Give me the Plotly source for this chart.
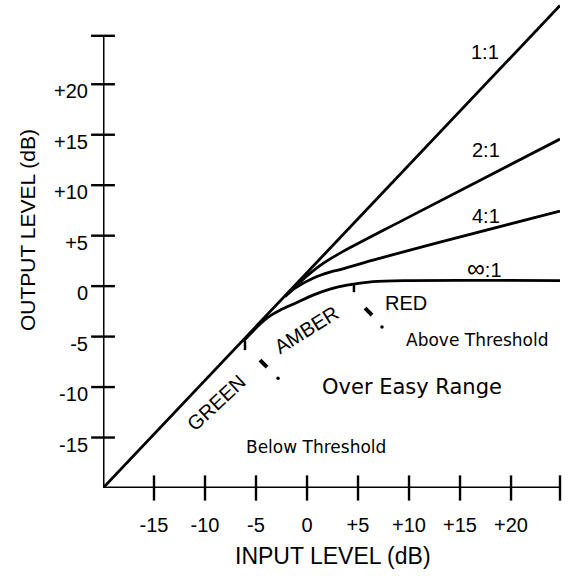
import plotly.graph_objects as go

# ---------------- data (dB) ----------------
# 1:1 reference line
in_1to1 = [-20.0, 24.8]
out_1to1 = [-20.0, 27.8]

# 2:1 curve
in_2to1 = [-1.86, -0.69, 1.27, 3.24, 9.41, 24.8]
out_2to1 = [-0.73, 0.40, 2.03, 3.27, 6.54, 14.57]

# 4:1 curve
in_4to1 = [-2.16, -1.18, 0.59, 2.25, 3.24, 6.47, 13.04, 24.8]
out_4to1 = [-1.05, -0.20, 0.79, 1.39, 1.64, 2.58, 4.36, 7.43]

# infinity:1 curve
in_inf = [-6.27, -5.10, -4.12, -3.43, -2.65, -0.98, 0.59, 2.25, 3.92, 6.47, 9.80, 24.8]
out_inf = [-5.50, -4.24, -3.32, -2.82, -2.38, -1.62, -0.89, -0.30, 0.10, 0.45, 0.55, 0.55]

# zone boundary marks (tick on curve, dash, dot)
bound_tick_x = [-6.08, -6.08, None, 4.6, 4.6]
bound_tick_y = [-5.45, -6.34, None, 0.2, -0.6]
bound_dash_x = [-4.61, -3.92, None, 5.69, 6.37]
bound_dash_y = [-7.33, -8.03, None, -2.18, -2.87]
bound_dot_x = [-2.84, 7.35]
bound_dot_y = [-9.12, -4.06]

# axis ticks
x_tickvals = [-15, -10, -5, 0, 5, 10, 15, 20]
x_ticktext = ["-15", "-10", "-5", "0", "+5", "+10", "+15", "+20"]
y_tickvals = [-15, -10, -5, 0, 5, 10, 15, 20]
y_ticktext = ["-15", "-10", "-5", "0", "+5", "+10", "+15", "+20"]
AXIS_MIN = -20.0
AXIS_MAX = 24.8

# ratio labels
ratio_text = ["1:1", "2:1", "4:1", "<span style='font-size:25px'>\u221e</span>:1"]
ratio_x = [17.45, 17.55, 17.55, 17.35]
ratio_y = [23.2, 13.5, 6.94, 1.75]

# zone labels
zone_text = ["GREEN", "AMBER", "RED"]
zone_x = [-8.92, -0.1, 9.7]
zone_y = [-11.6, -4.36, -1.68]
zone_angle = [-43, -32, 0]

# region labels
region_text = ["Above Threshold", "Over Easy Range", "Below Threshold"]
region_x = [16.76, 10.3, 0.88]
region_y = [-5.35, -10.0, -15.96]
region_size = [17, 21, 17]

# ---------------- figure ----------------
HELV = "Liberation Sans, Arial, Helvetica, sans-serif"
WIDE = "DejaVu Sans, Verdana, sans-serif"
BLACK = "black"

fig = go.Figure()

curve_line = dict(color=BLACK, width=2.8, shape="spline", smoothing=0.8)
for xs, ys in [(in_1to1, out_1to1), (in_2to1, out_2to1), (in_4to1, out_4to1), (in_inf, out_inf)]:
    fig.add_trace(go.Scatter(x=xs, y=ys, mode="lines", line=curve_line,
                             hoverinfo="skip", showlegend=False))

fig.add_trace(go.Scatter(x=bound_tick_x, y=bound_tick_y, mode="lines",
                         line=dict(color=BLACK, width=2.5), showlegend=False, hoverinfo="skip"))
fig.add_trace(go.Scatter(x=bound_dash_x, y=bound_dash_y, mode="lines",
                         line=dict(color=BLACK, width=4), showlegend=False, hoverinfo="skip"))
fig.add_trace(go.Scatter(x=bound_dot_x, y=bound_dot_y, mode="markers",
                         marker=dict(color=BLACK, size=3.5), showlegend=False, hoverinfo="skip"))

# axis lines
fig.add_shape(type="line", xref="x", yref="y", x0=AXIS_MIN, x1=AXIS_MIN, y0=AXIS_MIN, y1=AXIS_MAX,
              line=dict(color=BLACK, width=3))
fig.add_shape(type="line", xref="x", yref="y", x0=AXIS_MIN, x1=AXIS_MAX, y0=AXIS_MIN, y1=AXIS_MIN,
              line=dict(color=BLACK, width=3))

# crossing tick marks (including end caps)
fig.add_trace(go.Scatter(x=[AXIS_MIN] * (len(y_tickvals) + 1), y=y_tickvals + [AXIS_MAX],
                         mode="markers", cliponaxis=False,
                         marker=dict(symbol="line-ew", size=17, line=dict(color=BLACK, width=2.4)),
                         showlegend=False, hoverinfo="skip"))
fig.add_trace(go.Scatter(x=x_tickvals + [AXIS_MAX], y=[AXIS_MIN] * (len(x_tickvals) + 1),
                         mode="markers", cliponaxis=False,
                         marker=dict(symbol="line-ns", size=18, line=dict(color=BLACK, width=2.4)),
                         showlegend=False, hoverinfo="skip"))

annotations = []
for t, x, y in zip(ratio_text, ratio_x, ratio_y):
    annotations.append(dict(text=t, x=x, y=y, xref="x", yref="y", showarrow=False,
                            font=dict(family=HELV, size=20, color=BLACK)))
for t, x, y, a in zip(zone_text, zone_x, zone_y, zone_angle):
    annotations.append(dict(text=t, x=x, y=y, xref="x", yref="y", showarrow=False, textangle=a,
                            font=dict(family=HELV, size=20, color=BLACK)))
for t, x, y, s in zip(region_text, region_x, region_y, region_size):
    annotations.append(dict(text=t, x=x, y=y, xref="x", yref="y", showarrow=False,
                            font=dict(family=WIDE, size=s, color=BLACK)))

# axis titles
annotations.append(dict(text="OUTPUT LEVEL (dB)", x=-0.164, y=0.531, xref="paper", yref="paper",
                        showarrow=False, textangle=-90, xanchor="center", yanchor="middle",
                        font=dict(family=HELV, size=21, color=BLACK)))
annotations.append(dict(text="INPUT LEVEL (dB)", x=0.503, y=-0.140, xref="paper", yref="paper",
                        showarrow=False, xanchor="center", yanchor="middle",
                        font=dict(family=HELV, size=23, color=BLACK)))

fig.update_layout(
    width=573, height=578,
    margin=dict(l=103, r=13, t=2, b=90, pad=0),
    paper_bgcolor="white", plot_bgcolor="white",
    showlegend=False,
    annotations=annotations,
    xaxis=dict(range=[AXIS_MIN, AXIS_MAX], showgrid=False, zeroline=False, showline=False,
               tickmode="array", tickvals=x_tickvals, ticktext=x_ticktext, ticks="",
               ticklabelstandoff=23,
               tickfont=dict(family=HELV, size=20, color=BLACK)),
    yaxis=dict(range=[AXIS_MIN, 28.15], showgrid=False, zeroline=False, showline=False,
               tickmode="array", tickvals=y_tickvals, ticktext=y_ticktext, ticks="",
               ticklabelstandoff=14, ticklabelshift=7,
               tickfont=dict(family=HELV, size=20, color=BLACK)),
)

fig.write_html("out.html", config={"displayModeBar": False},
               post_script="document.body.style.margin='0px';")
